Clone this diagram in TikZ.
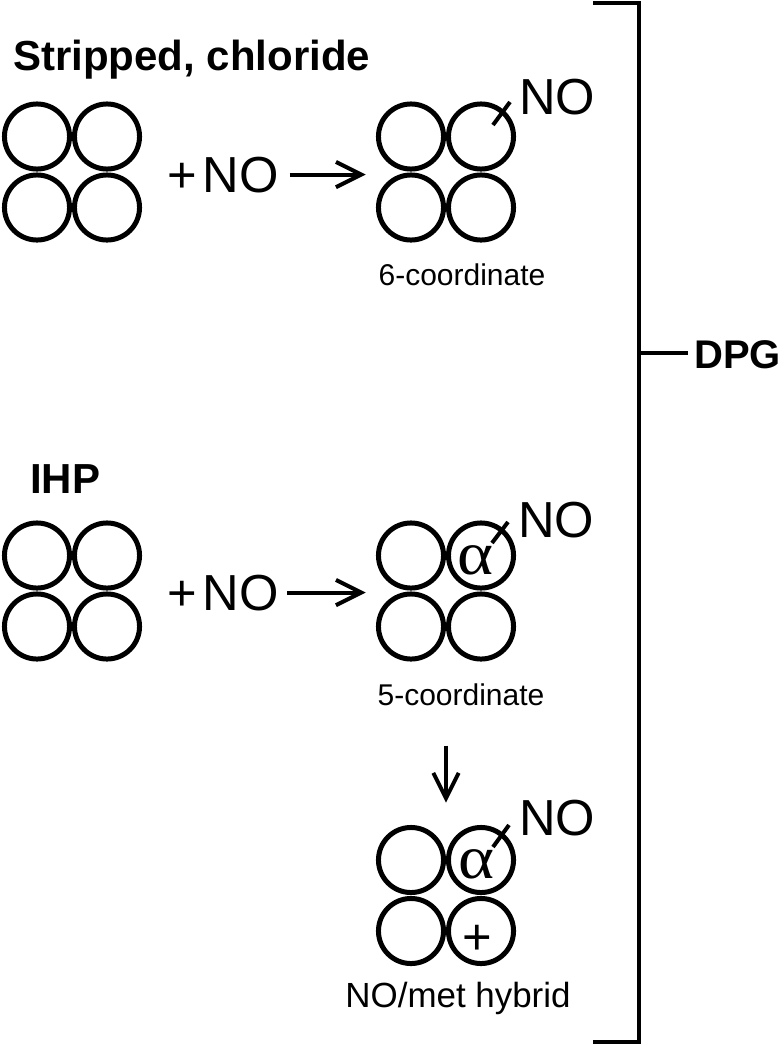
\documentclass[tikz,border=0pt]{standalone}
\usepackage{fontspec}
\setmainfont{Liberation Sans}
\newfontfamily\alfont{Liberation Serif}
\usetikzlibrary{arrows.meta}
\usetikzlibrary{positioning}

\begin{document}
\begin{tikzpicture}[x=0.75pt, y=-0.75pt,
		heme/.style={line width=3.75pt},
		hbox/.style={minimum size=120pt, inner sep=0pt},
		rxn/.style={line width=3pt, -{Straight Barb[length=19pt, width=19pt]}},
		tick/.style={line width=3pt},
		big/.style={inner sep=0pt, font=\fontsize{38}{40}\selectfont},
		greek/.style={inner sep=0pt, xscale=1.12, font=\alfont\fontsize{46}{48}\selectfont},
		title/.style={inner sep=0pt, anchor=base west, font=\fontsize{31.5}{34}\selectfont\bfseries},
		sublabel/.style={inner sep=0pt, anchor=base, font=\fontsize{22.5}{26}\selectfont}]

	\useasboundingbox (0,0) rectangle (782,1050);

	% stripped, chloride
	\node[title] (strip) at (13,70) {Stripped, chloride};
	\begin{scope}[shift={(72,172)}]
		\node[hbox] (hb1) at (0,0) {};
		\foreach \dx in {-35,35}
			\foreach \dy in {-35.5,35.5}
				\draw[heme] (\dx,\dy) circle (24.4pt);
	\end{scope}
	\node[big, anchor=base east] (plusno1) at (279,192) {+\kern4pt NO};

	\begin{scope}[shift={(446,172)}]
		\node[hbox] (hb2) at (0,0) {};
		\foreach \dx in {-35,35}
			\foreach \dy in {-35.5,35.5}
				\draw[heme] (\dx,\dy) circle (24.4pt);
		\draw[tick] (47,-47) -- (64,-70);
		\node[big] (no2) at (111,-75) {NO};
		\node[sublabel] (lab2) at (16,113) {6-coordinate};
	\end{scope}
	\draw[rxn, shorten <=8pt] (plusno1.east) -- (plusno1.east -| hb2.west);

	% IHP
	\node[title] (ihp) at (30,493) {IHP};
	\begin{scope}[shift={(72,591)}]
		\node[hbox] (hb3) at (0,0) {};
		\foreach \dx in {-35,35}
			\foreach \dy in {-35.5,35.5}
				\draw[heme] (\dx,\dy) circle (24.4pt);
	\end{scope}
	\node[big, anchor=base east] (plusno3) at (279,610) {+\kern4pt NO};

	\begin{scope}[shift={(446,591)}]
		\node[hbox] (hb4) at (0,0) {};
		\foreach \dx in {-35,35}
			\foreach \dy in {-35.5,35.5}
				\draw[heme] (\dx,\dy) circle (24.4pt);
		\draw[tick] (46,-48) -- (62,-69);
		\node[greek] (al4) at (29.5,-31) {α};
		\node[big] (no4) at (110,-71) {NO};
		\node[sublabel] (lab4) at (15,114) {5-coordinate};
	\end{scope}
	\draw[rxn, shorten <=6pt] (plusno3.east) -- (plusno3.east -| hb4.west);

	\begin{scope}[shift={(446,895.5)}]
		\node[hbox] (hb5) at (0,0) {};
		\foreach \dx in {-35,35}
			\foreach \dy in {-35.5,35.5}
				\draw[heme] (\dx,\dy) circle (24.4pt);
		\draw[tick] (47,-48.5) -- (63,-70.5);
		\node[greek] (al5) at (30,-31.5) {α};
		\node[big] (met5) at (31,44.5) {+};
		\node[big] (no5) at (111,-77.5) {NO};
		\node[sublabel, font=\fontsize{26.2}{28}\selectfont] (lab5) at (12,111.5) {NO/met hybrid};
	\end{scope}
	\draw[rxn, shorten <=30pt, shorten >=9.4pt] (hb5.north |- lab4.south) -- (hb5.north);

	% DPG bracket
	\draw[line width=3pt] (593,3) -- (639,3) -- (639,1042) -- (593,1042);
	\coordinate (brk) at (639,353);
	\node[title, font=\fontsize{30}{34}\selectfont\bfseries] (dpg) at (694,368) {DPG};
	\draw[line width=3pt, shorten >=4.5pt] (brk) -- (brk -| dpg.west);
\end{tikzpicture}
\end{document}
